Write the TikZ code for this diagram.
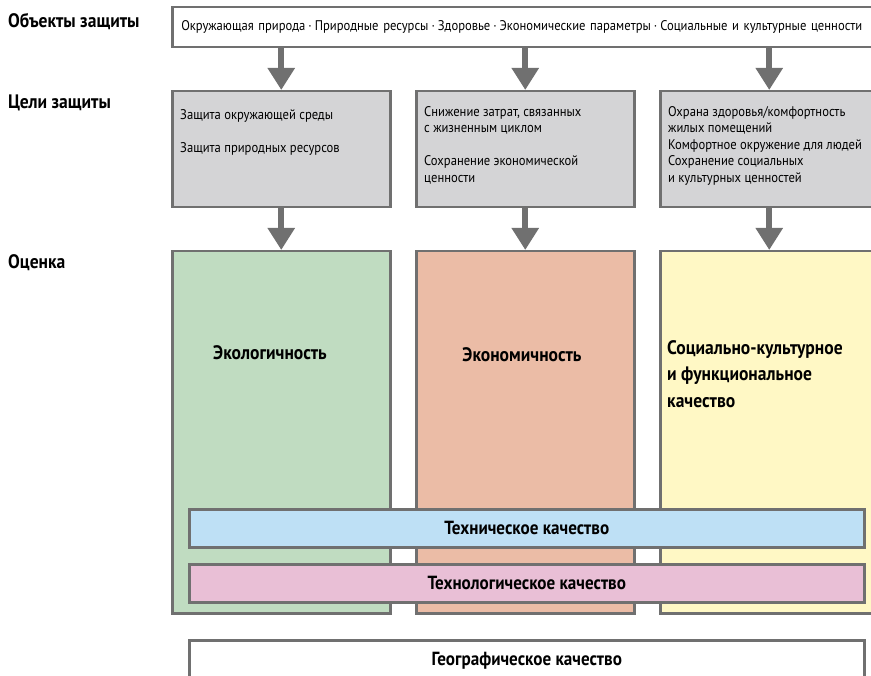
\documentclass[tikz,border=0pt]{standalone}
\usepackage{fontspec}
\setmainfont{PT Sans}[FakeStretch=0.9]
\usetikzlibrary{positioning,arrows.meta}
\definecolor{frame}{HTML}{707070}
\definecolor{greybox}{HTML}{D4D4D6}
\definecolor{ecol}{HTML}{C0DCC1}
\definecolor{econ}{HTML}{EBBCA6}
\definecolor{socio}{HTML}{FFF8C5}
\definecolor{tech}{HTML}{BEE0F5}
\definecolor{techno}{HTML}{E9BFD6}
\newcommand{\midsep}{\hspace{3pt}·\hspace{3pt}}

\begin{document}
\begin{tikzpicture}[x=1pt,y=-1pt,
  box/.style={draw=frame,line width=2.5pt,anchor=north west,inner sep=0pt},
  goal/.style={box,fill=greybox,minimum width=218pt,minimum height=116pt},
  field/.style={box,minimum width=218pt,minimum height=362pt},
  bar/.style={box,minimum width=675pt,minimum height=38pt,font=\fontsize{19}{21}\selectfont\bfseries},
  head/.style={anchor=west,inner sep=0pt,font=\fontsize{19.5}{21}\selectfont\bfseries},
  small/.style={anchor=north west,align=left,inner sep=0pt,font=\fontsize{14}{16.5}\selectfont},
  arr/.style={draw=frame,line width=6pt,-{Triangle[width=26pt,length=22pt]}}]
\clip (0,0) rectangle (871,676);

% row labels
\node[head] (objlbl) at (8,22) {Объекты защиты};
\node[head] (goallbl) at (8,103) {Цели защиты};
\node[head] (evallbl) at (8,263) {Оценка};

% objects of protection
\node[box,fill=white,minimum height=40pt,text width=700pt,align=left,inner xsep=9pt,
  font=\fontsize{14}{16}\selectfont] (objects) at (171,6)
  {Окружающая природа\midsep Природные ресурсы\midsep Здоровье\midsep Экономические параметры\midsep Социальные и культурные ценности};

% protection goals
\node[goal] (g1) at (171,90) {};
\node[goal] (g2) at (415,90) {};
\node[goal] (g3) at (659,90) {};
\node[small] (g1txt) at ([xshift=9pt,yshift=-19pt]g1.north west)
  {Защита окружающей среды\\[16.5pt]Защита природных ресурсов};
\node[small] (g2txt) at ([xshift=9pt,yshift=-16pt]g2.north west)
  {Снижение затрат, связанных\\с жизненным циклом\\[16.5pt]Сохранение экономической\\ценности};
\node[small] (g3txt) at ([xshift=9pt,yshift=-16pt]g3.north west)
  {Охрана здоровья/комфортность\\жилых помещений\\Комфортное окружение для людей\\Сохранение социальных\\и культурных ценностей};

% assessment
\node[field,fill=ecol] (f1) at (171,250) {};
\node[field,fill=econ] (f2) at (415,250) {};
\node[field,fill=socio] (f3) at (659,250) {};
\node[head,anchor=center] (f1txt) at (270,353) {Экологичность};
\node[head,anchor=center] (f2txt) at (522,355) {Экономичность};
\node[head,anchor=north west,align=left,font=\fontsize{19.5}{26.5}\selectfont\bfseries] (f3txt) at (667,340)
  {Социально-культурное\\и функциональное\\качество};

\node[bar,fill=tech] (technical) at (188,508) {Техническое качество};
\node[bar,fill=techno] (technological) at (188,563) {Технологическое качество};
\node[box,fill=white,minimum width=675pt,minimum height=60pt] (geo) at (188,639) {};
\node[head,anchor=center,font=\fontsize{19}{21}\selectfont\bfseries] (geotxt) at ([yshift=-22pt]geo.north) {Географическое качество};

% arrows
\foreach \g in {g1,g2,g3}
  \draw[arr] (objects.south -| \g.north) -- (\g.north);
\foreach \g/\f in {g1/f1,g2/f2,g3/f3}
  \draw[arr] (\g.south) -- (\f.north);
\end{tikzpicture}
\end{document}
